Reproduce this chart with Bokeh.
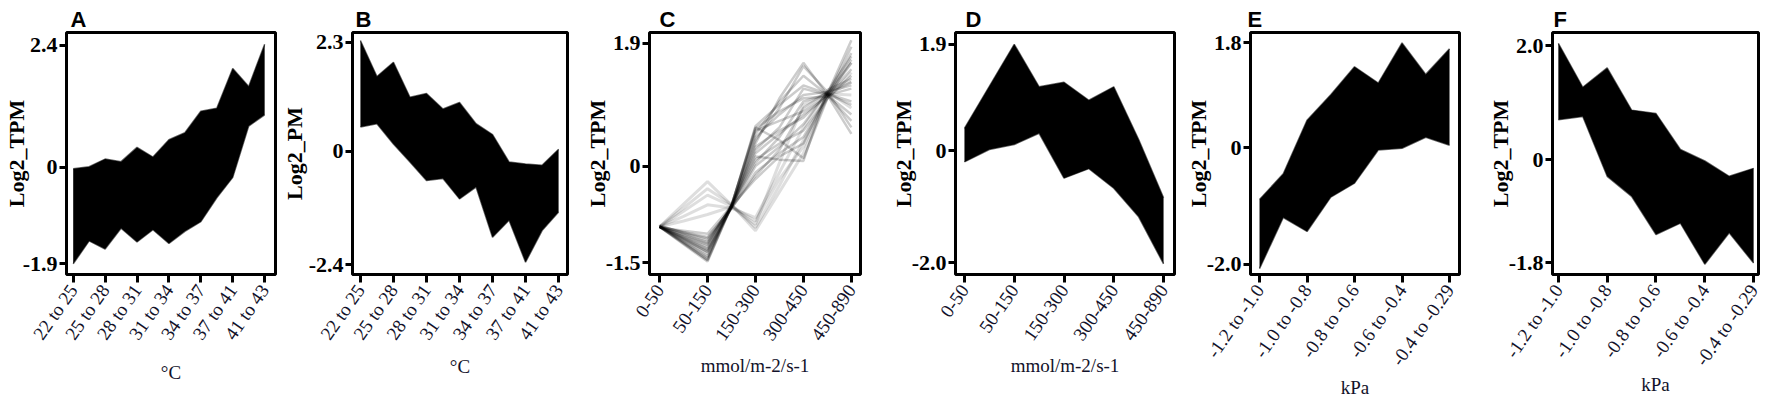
import math
from bokeh.plotting import figure
from bokeh.layouts import row
from bokeh.models import Range1d, FixedTicker
from bokeh.embed import file_html
from bokeh.resources import INLINE

# ---------------- data ----------------
temp_labels = ["22 to 25", "25 to 28", "28 to 31", "31 to 34", "34 to 37", "37 to 41", "41 to 43"]
light_labels = ["0-50", "50-150", "150-300", "300-450", "450-890"]
vpd_labels = ["-1.2 to -1.0", "-1.0 to -0.8", "-0.8 to -0.6", "-0.6 to -0.4", "-0.4 to -0.29"]

# envelopes of the dense line bundles, sampled at each category and half-way between
a_upper = [-0.03, 0.01, 0.16, 0.11, 0.39, 0.20, 0.54, 0.68, 1.10, 1.16, 1.94, 1.59, 2.42]
a_lower = [-1.90, -1.45, -1.61, -1.20, -1.47, -1.23, -1.50, -1.26, -1.07, -0.60, -0.20, 0.81, 1.03]
b_upper = [2.34, 1.58, 1.88, 1.14, 1.22, 0.89, 1.03, 0.58, 0.35, -0.23, -0.27, -0.30, 0.04]
b_lower = [0.51, 0.58, 0.15, -0.23, -0.62, -0.58, -1.01, -0.76, -1.82, -1.46, -2.35, -1.68, -1.29]
d_upper = [0.40, 1.15, 1.90, 1.14, 1.22, 0.90, 1.14, 0.20, -0.84]
d_lower = [-0.20, 0.02, 0.11, 0.31, -0.49, -0.32, -0.67, -1.18, -2.02]
e_upper = [-0.89, -0.45, 0.47, 0.91, 1.39, 1.11, 1.80, 1.26, 1.70]
e_lower = [-2.08, -1.20, -1.44, -0.85, -0.61, -0.04, -0.01, 0.18, 0.04]
f_upper = [2.04, 1.27, 1.61, 0.87, 0.81, 0.18, -0.02, -0.29, -0.15]
f_lower = [0.70, 0.76, -0.29, -0.64, -1.31, -1.11, -1.83, -1.28, -1.81]

# panel C: individual gene profiles
c_dark = [
    [-0.94, -1.21, -1.48, -0.62, 0.62, 0.95, 1.25, 1.12, 1.95],
    [-0.94, -1.18, -1.42, -0.60, 0.55, 0.70, 0.85, 1.10, 1.85],
    [-0.94, -1.15, -1.36, -0.63, 0.45, 0.80, 1.10, 1.15, 1.70],
    [-0.94, -1.12, -1.30, -0.65, 0.30, 0.55, 0.75, 1.12, 1.60],
    [-0.94, -1.10, -1.25, -0.62, 0.20, 0.50, 0.80, 1.08, 1.50],
    [-0.94, -1.07, -1.20, -0.60, 0.10, 0.35, 0.55, 1.05, 1.40],
    [-0.92, -1.04, -1.15, -0.64, 0.00, 0.30, 0.65, 1.15, 1.30],
    [-0.94, -1.02, -1.10, -0.66, -0.10, 0.20, 0.45, 1.10, 1.20],
    [-0.95, -1.00, -1.05, -0.62, -0.20, 0.15, 0.35, 1.12, 0.95],
    [-0.94, -1.17, -1.40, -0.60, 0.50, 1.00, 1.40, 1.10, 0.80],
    [-0.94, -1.14, -1.33, -0.64, 0.40, 0.90, 1.55, 1.15, 0.60],
    [-0.94, -1.11, -1.28, -0.62, 0.35, 1.05, 1.60, 1.10, 0.50],
    [-0.94, -1.09, -1.22, -0.60, 0.25, 0.60, 1.20, 1.10, 0.70],
    [-0.94, -1.06, -1.18, -0.63, 0.05, 0.45, 1.00, 1.12, 1.00],
    [-0.93, -1.03, -1.12, -0.65, -0.15, 0.25, 0.90, 1.15, 1.25],
    [-0.94, -1.20, -1.45, -0.61, 0.58, 0.85, 1.05, 1.08, 1.75],
    [-0.94, -1.19, -1.46, -0.62, 0.60, 0.40, 0.12, 1.05, 1.65],
    [-0.94, -1.13, -1.32, -0.63, 0.15, 0.10, 0.08, 1.18, 1.35],
]
c_light = [
    [-0.94, -0.59, -0.24, -0.60, -0.95, -0.30, 0.40, 1.05, 1.45],
    [-0.94, -0.70, -0.45, -0.62, -0.85, -0.20, 0.30, 1.10, 1.30],
    [-0.94, -0.78, -0.60, -0.65, -0.80, -0.10, 0.60, 1.15, 0.90],
    [-0.94, -0.85, -0.75, -0.63, -0.90, 0.05, 0.95, 1.12, 1.10],
    [-0.94, -0.65, -0.35, -0.60, -1.00, -0.40, 0.20, 1.08, 1.60],
]

SERIF = "Liberation Serif"
SANS = "Liberation Sans"
H = 402


def half_steps(n):
    return [i / 2 for i in range(n)]


def make_panel(letter, ylab, xlab, cats, yticks, yrange, xrange, W, mbl, fw, mbt, fh,
               title_dx, ylab_standoff, xlab_standoff):
    mbr = W - mbl - fw
    mbb = H - mbt - fh
    p = figure(width=W, height=H, x_range=Range1d(*xrange), y_range=Range1d(*yrange),
               output_backend="svg", toolbar_location=None,
               min_border_left=mbl, min_border_right=mbr,
               min_border_top=mbt, min_border_bottom=mbb)
    p.grid.visible = False
    p.background_fill_color = "white"
    p.border_fill_color = "white"
    p.outline_line_color = "black"
    p.outline_line_width = 3
    p.outline_line_alpha = 1.0

    p.title.text = letter
    p.title.align = "left"
    p.title.offset = title_dx
    p.title.standoff = 1
    p.title.text_font = SANS
    p.title.text_font_style = "bold"
    p.title.text_font_size = "22px"
    p.title.text_color = "black"

    xa = p.xaxis[0]
    xa.ticker = FixedTicker(ticks=list(range(len(cats))))
    xa.major_label_overrides = {i: c for i, c in enumerate(cats)}
    xa.major_label_orientation = math.radians(55)
    xa.major_label_text_font = SERIF
    xa.major_label_text_font_size = "19px"
    xa.major_label_text_color = "#12122a"
    xa.major_label_standoff = 4
    xa.major_tick_out = 8
    xa.major_tick_in = 0
    xa.major_tick_line_width = 3
    xa.major_tick_line_color = "black"
    xa.minor_tick_line_color = None
    xa.axis_line_color = None
    xa.axis_label = xlab
    xa.axis_label_text_font = SERIF
    xa.axis_label_text_font_style = "normal"
    xa.axis_label_text_font_size = "19px"
    xa.axis_label_text_color = "#12122a"
    xa.axis_label_standoff = xlab_standoff

    ya = p.yaxis[0]
    ya.ticker = FixedTicker(ticks=yticks)
    ya.major_label_overrides = {t: ("0" if t == 0 else f"{t:.1f}") for t in yticks}
    ya.major_label_text_font = SERIF
    ya.major_label_text_font_style = "bold"
    ya.major_label_text_font_size = "22px"
    ya.major_label_text_color = "black"
    ya.major_label_standoff = 2
    ya.major_tick_out = 7
    ya.major_tick_in = 0
    ya.major_tick_line_width = 3
    ya.major_tick_line_color = "black"
    ya.minor_tick_line_color = None
    ya.axis_line_color = None
    ya.axis_label = ylab
    ya.axis_label_text_font = SERIF
    ya.axis_label_text_font_style = "bold"
    ya.axis_label_text_font_size = "22px"
    ya.axis_label_text_color = "black"
    ya.axis_label_standoff = ylab_standoff
    return p


def dense(p, upper, lower):
    xs = half_steps(len(upper))
    p.varea(x=xs, y1=lower, y2=upper, fill_color="black", fill_alpha=1.0)
    p.line(xs, upper, line_color="black", line_width=1.5, line_alpha=0.6)
    p.line(xs, lower, line_color="black", line_width=1.5, line_alpha=0.6)


pa = make_panel("A", "Log2_TPM", "°C", temp_labels, [2.4, 0, -1.9], (-2.11, 2.65), (-0.21, 6.34),
                278, 60, 215, 25, 249, 4, -9, 9)
dense(pa, a_upper, a_lower)

pb = make_panel("B", "Log2_PM", "°C", temp_labels, [2.3, 0, -2.4], (-2.61, 2.51), (-0.24, 6.27),
                303, 74, 215, 32, 243, 3, -1, 3)
dense(pb, b_upper, b_lower)

pc = make_panel("C", "Log2_TPM", "mmol/m-2/s-1", light_labels, [1.9, 0, -1.5], (-1.68, 2.07), (-0.21, 4.19),
                306, 68, 211, 27, 248, 10, -7, 6)
cx = half_steps(9)
pc.multi_line(xs=[cx] * len(c_light), ys=c_light, line_color="black", line_alpha=0.13, line_width=3)
pc.multi_line(xs=[cx] * len(c_dark), ys=c_dark, line_color="black", line_alpha=0.2, line_width=2.5)

pd = make_panel("D", "Log2_TPM", "mmol/m-2/s-1", light_labels, [1.9, 0, -2.0], (-2.21, 2.11), (-0.18, 4.22),
                295, 68, 219, 27, 250, 10, -7, 6)
dense(pd, d_upper, d_lower)

pe = make_panel("E", "Log2_TPM", "kPa", vpd_labels, [1.8, 0, -2.0], (-2.18, 1.98), (-0.19, 4.21),
                302, 68, 209, 29, 250, -3, -7, -1)
dense(pe, e_upper, e_lower)

pf = make_panel("F", "Log2_TPM", "kPa", vpd_labels, [2.0, 0, -1.8], (-2.01, 2.23), (-0.12, 4.10),
                278, 68, 206, 25, 257, 1, -7, -4)
dense(pf, f_upper, f_lower)

layout = row(pa, pb, pc, pd, pe, pf, spacing=0)
open("out.html", "w").write(file_html(layout, INLINE))
